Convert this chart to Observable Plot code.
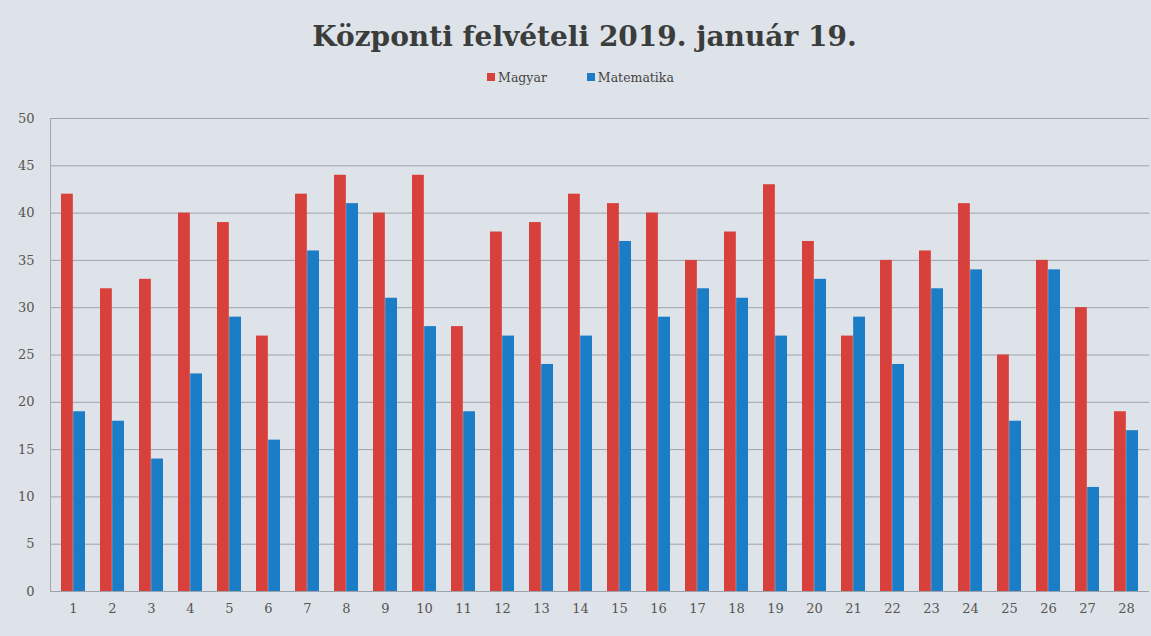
<!DOCTYPE html>
<html>
<head>
<meta charset="utf-8">
<script src="https://cdn.jsdelivr.net/npm/d3@7"></script>
<script src="https://cdn.jsdelivr.net/npm/@observablehq/plot@0.6"></script>
<style>
  html, body { margin: 0; padding: 0; background: #dee3e9; }
  body { width: 1151px; height: 636px; overflow: hidden; font-family: "DejaVu Serif", "Liberation Serif", serif; }
  #title { height: 62px; line-height: 74px; text-align: center; font-size: 28px; font-weight: bold; color: #3a3d3c; padding-left: 18px; }
  #legend { height: 30px; display: flex; justify-content: center; align-items: center; gap: 40px; font-size: 12.5px; color: #444; padding-left: 10px; }
  .key { display: flex; align-items: center; gap: 3px; }
  .sw { width: 8px; height: 8px; display: inline-block; }
  svg { display: block; }
</style>
</head>
<body>
<div id="title">Központi felvételi 2019. január 19.</div>
<div id="legend"></div>
<div id="chart"></div>
<script>
const days = d3.range(1, 29);
const series = ["Magyar", "Matematika"];
const colors = ["#d8403b", "#1b7dc6"];
const magyar = [42, 32, 33, 40, 39, 27, 42, 44, 40, 44, 28, 38, 39, 42, 41, 40, 35, 38, 43, 37, 27, 35, 36, 41, 25, 35, 30, 19];
const matematika = [19, 18, 14, 23, 29, 16, 36, 41, 31, 28, 19, 27, 24, 27, 37, 29, 32, 31, 27, 33, 29, 24, 32, 34, 18, 34, 11, 17];
const yTicks = [0, 5, 10, 15, 20, 25, 30, 35, 40, 45, 50];

const magyarData = days.map((d, i) => ({day: d, series: series[0], value: magyar[i]}));
const matekData = days.map((d, i) => ({day: d, series: series[1], value: matematika[i]}));

const legend = document.getElementById("legend");
series.forEach((s, i) => {
  const k = document.createElement("span");
  k.className = "key";
  k.innerHTML = `<span class="sw" style="background:${colors[i]}"></span>${s}`;
  legend.appendChild(k);
});

const W = 1151, ML = 50, MR = 2;
const pInner = 0.38, pOuter = 0.2;
const step = (W - ML - MR) / (days.length - pInner + 2 * pOuter);
const half = step * (1 - pInner) / 2;

const chart = Plot.plot({
  width: W,
  height: 544,
  marginTop: 26,
  marginBottom: 45,
  marginLeft: ML,
  marginRight: MR,
  style: {background: "transparent", fontFamily: "'DejaVu Serif', 'Liberation Serif', serif", fontSize: "13px", color: "#555"},
  x: {domain: days, paddingInner: pInner, paddingOuter: pOuter, label: null, tickSize: 0, tickPadding: 12},
  y: {domain: [0, 50], ticks: yTicks, label: null, tickSize: 0, tickPadding: 16},
  color: {domain: series, range: colors},
  marks: [
    Plot.gridY(yTicks, {stroke: "#9ea3a9", strokeOpacity: 1, strokeWidth: 1}),
    Plot.frame({anchor: "left", stroke: "#a3a8ae"}),
    Plot.barY(magyarData, {x: "day", y: "value", fill: "series", insetRight: half}),
    Plot.barY(matekData, {x: "day", y: "value", fill: "series", insetLeft: half}),
    Plot.ruleY([0], {stroke: "#9ea3a9"})
  ]
});
document.getElementById("chart").appendChild(chart);
</script>
</body>
</html>
